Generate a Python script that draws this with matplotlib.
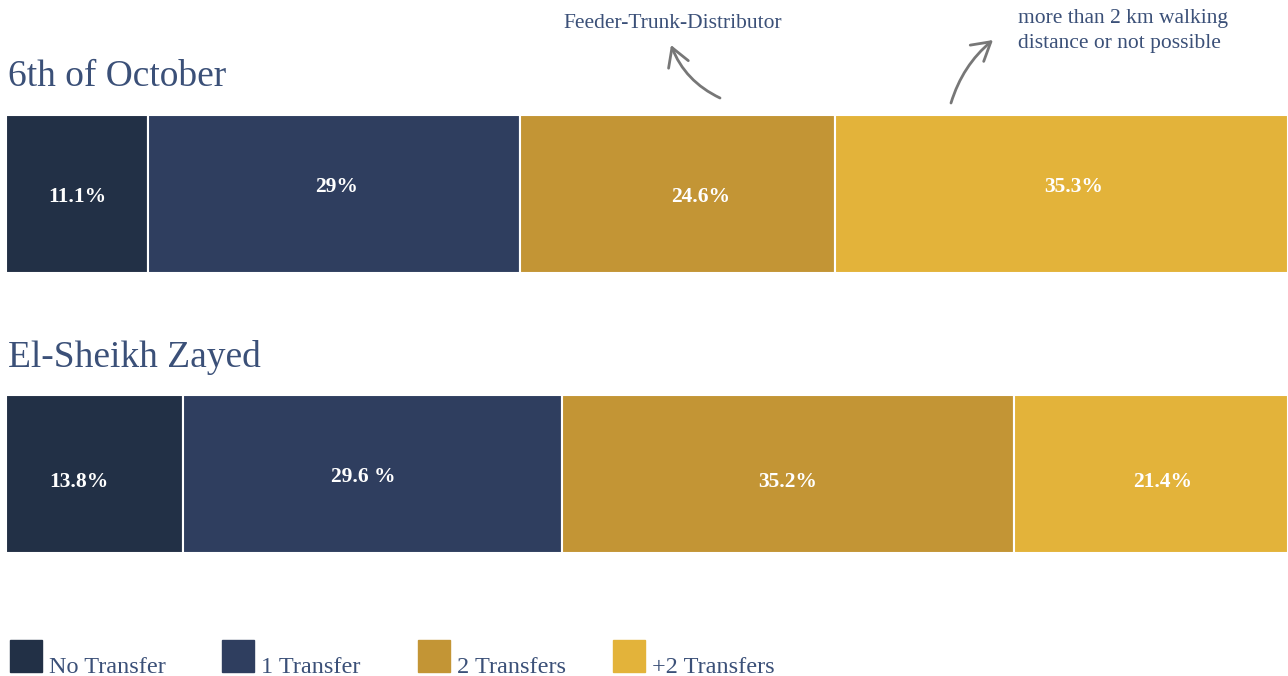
import matplotlib
matplotlib.use("Agg")
import matplotlib.pyplot as plt
from matplotlib.patches import Rectangle, FancyArrowPatch
import numpy as np

# Share of trips by number of transfers, per city
cities = ["6th of October", "El-Sheikh Zayed"]
categories = ["No Transfer", "1 Transfer", "2 Transfers", "+2 Transfers"]
october_share = [11.1, 29.0, 24.6, 35.3]
zayed_share = [13.8, 29.6, 35.2, 21.4]
october_labels = ["11.1%", "29%", "24.6%", "35.3%"]
zayed_labels = ["13.8%", "29.6 %", "35.2%", "21.4%"]

colors = ["#223046", "#2f3e5f", "#c39535", "#e3b33a"]
title_color = "#3b5078"
arrow_color = "#777777"

W, H = 1288, 676
plt.rcParams["font.family"] = ["Liberation Serif", "DejaVu Serif"]

fig = plt.figure(figsize=(W / 100, H / 100), dpi=100)

# bar area in pixel terms: x 6..1288, y 115..553
ax = fig.add_axes([6 / W, (H - 553) / H, (W - 6) / W, (553 - 115) / H])
row_gap = 280.0
bar_h = 158.0 / row_gap
ax.set_xlim(0, 100)
ax.set_ylim(1 + bar_h / 2, -bar_h / 2)
ax.axis("off")

# small nudges for the value labels (x in %, y in rows)
label_dx = [[0.0, 0.15, 1.8, 0.9], [-1.25, -0.7, 0.0, 0.9]]
label_dy = [[0.01, -0.025, 0.01, -0.025], [0.03, 0.01, 0.03, 0.03]]

for row, (shares, labels) in enumerate([(october_share, october_labels),
                                        (zayed_share, zayed_labels)]):
    lefts = np.concatenate([[0], np.cumsum(shares)[:-1]])
    ax.barh(row, shares, left=lefts, height=bar_h, color=colors,
            edgecolor="white", linewidth=1.5)
    for i, (l, w, txt) in enumerate(zip(lefts, shares, labels)):
        ax.text(l + w / 2 + label_dx[row][i], row + label_dy[row][i], txt,
                ha="center", va="center", color="white",
                fontsize=15.5, fontweight="bold")

# overlay in pixel coordinates for titles, notes and legend
ov = fig.add_axes([0, 0, 1, 1])
ov.set_xlim(0, W)
ov.set_ylim(H, 0)
ov.axis("off")
ov.patch.set_alpha(0)

ov.text(8, 86, cities[0], fontsize=27, color=title_color, va="baseline")
ov.text(8, 367, cities[1], fontsize=27, color=title_color, va="baseline")

ov.text(673, 23, "Feeder-Trunk-Distributor", fontsize=15.5, color=title_color,
        ha="center", va="center")
ov.text(1018, 31, "more than 2 km walking\ndistance or not possible",
        fontsize=15.5, color=title_color, ha="left", va="center",
        linespacing=1.45)

for start, end, rad in [((720, 98), (671, 45), -0.2),
                        ((951, 103), (993, 40), -0.15)]:
    ov.add_patch(FancyArrowPatch(start, end, connectionstyle=f"arc3,rad={rad}",
                                 arrowstyle="->,head_length=0.65,head_width=0.38",
                                 color=arrow_color, linewidth=2,
                                 mutation_scale=20, shrinkA=0, shrinkB=0))

legend_x = [10, 222, 418, 613]
for x, name, c in zip(legend_x, categories, colors):
    ov.add_patch(Rectangle((x, 640), 32, 32, color=c))
    ov.text(x + 39, 673, name, fontsize=17.5, color=title_color, va="baseline")

fig.savefig("out.png", dpi=100)
